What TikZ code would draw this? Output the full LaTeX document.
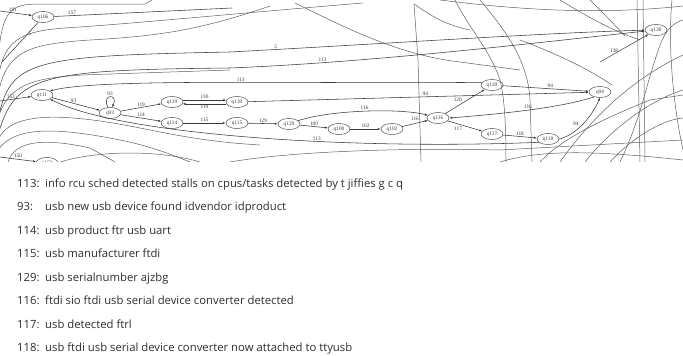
\documentclass[tikz,border=0pt]{standalone}
\usepackage{fontspec}
\setmainfont{Liberation Serif}
\newfontfamily\legendfont{Open Sans}
\usetikzlibrary{shapes.geometric}
\usetikzlibrary{arrows.meta}
\usetikzlibrary{positioning}
\definecolor{gr-line}{HTML}{3A3A3A}
\definecolor{gr-back}{HTML}{5E5E5E}
\definecolor{gr-text}{HTML}{2E2E2E}

\tikzset{
  state/.style={ellipse, draw=gr-line, line width=0.45pt, inner sep=0.5pt, minimum width=22pt, minimum height=11pt, font=\fontsize{5.3}{5}\selectfont, text=gr-line},
  trans/.style={->, gr-line, line width=0.55pt},
  lbl/.style={font=\fontsize{5.3}{5}\selectfont, inner sep=1pt, text=gr-line},
  back/.style={gr-back, line width=0.5pt},
  legrow/.style={anchor=base west, font=\legendfont\fontsize{11.3}{13}\selectfont, text=gr-text, inner sep=0pt}
}

\begin{document}
\begin{tikzpicture}[x=1pt, y=-1pt, >={Latex[length=3pt,width=2.2pt]}]
    \useasboundingbox (0,0) rectangle (683,356);
    \begin{scope}
        \clip (0,0) rectangle (683,161);
        % states
        \node[state] (q106) at (43,17) {q106};
        \node[state] (q111) at (42,95) {q111};
        \node[state] (q93) at (110,113) {q93};
        \node[state] (q119) at (172,102) {q119};
        \node[state] (q130) at (237,102) {q130};
        \node[state] (q114) at (172,123) {q114};
        \node[state] (q115) at (237,123) {q115};
        \node[state] (q129) at (289,124) {q129};
        \node[state] (q100) at (339,129) {q100};
        \node[state] (q102) at (392,129) {q102};
        \node[state] (q116) at (438,118) {q116};
        \node[state] (q120) at (492,85) {q120};
        \node[state] (q94) at (600,92) {q94};
        \node[state] (q117) at (492,134) {q117};
        \node[state] (q118) at (548,139) {q118};
        \node[state] (q138) at (656,30) {q138};
        \node[state] (q150) at (47,163) {q150};
        % free ends of cut edges
        \coordinate (in191) at (0,11);
        \coordinate (out5) at (2,62);
        \coordinate (out157) at (232,8);
        \coordinate (in153) at (0,101);
        \coordinate (in150) at (0,157);
        \coordinate (in138) at (600,62);
        \coordinate (lf5) at (-2,120);
        \coordinate (lf113) at (-2,135);

        % background edges of the larger graph
        \draw[back] (-2,60) .. controls (2,10) and (10,4) .. (40,4) -- (145,4) -- (152,0);
        \draw[back] (-2,80) .. controls (4,35) and (25,30) .. (80,27) .. controls (150,22) and (230,14) .. (363,3);
        \draw[back] (-2,95) .. controls (6,50) and (30,44) .. (90,40) .. controls (160,36) and (200,30) .. (270,6);
        \draw[back] (-2,118) .. controls (10,80) and (40,76) .. (110,74) -- (230,70);
        \draw[back] (-2,140) .. controls (10,112) and (60,112) .. (140,128) .. controls (180,136) and (210,142) .. (260,145);
        \draw[back] (-2,150) .. controls (15,125) and (60,128) .. (120,140) .. controls (150,146) and (170,154) .. (190,162);
        \draw[back] (8,162) .. controls (15,140) and (45,138) .. (90,148) -- (115,162);
        \draw[back] (60,162) .. controls (100,150) and (160,150) .. (200,162);
        \draw[back] (230,162) .. controls (300,150) and (420,148) .. (500,150) -- (683,140);
        \draw[back] (295,3) .. controls (350,30) and (400,55) .. (460,62) -- (520,70);
        \draw[back] (414,4) -- (418,60) -- (421,162);
        \draw[back] (414,4) .. controls (430,15) and (445,25) .. (470,30);
        \draw[back] (455,0) .. controls (470,30) and (490,50) .. (500,80) .. controls (505,100) and (506,130) .. (506,162);
        \draw[back] (480,0) .. controls (505,30) and (528,60) .. (530,100) -- (532,162);
        \draw[back] (560,0) .. controls (585,15) and (610,30) .. (640,40);
        \draw[back] (590,0) .. controls (600,10) and (612,22) .. (625,36);
        \draw[back] (637,0) -- (640,162);
        \draw[back] (643,0) -- (645,162);
        \draw[back] (672,0) .. controls (668,40) and (672,100) .. (683,150);
        \draw[back] (683,20) .. controls (665,25) and (660,45) .. (655,60) .. controls (645,90) and (640,120) .. (620,162);
        \draw[back] (560,162) .. controls (590,120) and (630,80) .. (683,55);
        \draw[back] (585,162) .. controls (610,130) and (650,100) .. (683,90);
        \draw[back] (610,162) .. controls (630,140) and (660,120) .. (683,118);
        \draw[back] (440,0) .. controls (520,10) and (600,15) .. (683,6);
        \draw[back] (520,40) .. controls (560,55) and (590,70) .. (612,85);
        \draw[back] (540,162) .. controls (560,140) and (600,120) .. (650,100) -- (683,95);
        \draw[back] (500,162) .. controls (540,150) and (590,150) .. (683,160);

        % transitions
        \draw[trans] (in191) -- node[lbl, above, pos=0.4] {191} (q106);
        \draw[gr-line, line width=0.55pt] (q106) -- node[lbl, right, pos=0.3] {5} (out5);
        \draw[gr-line, line width=0.55pt] (q106) -- node[lbl, above, pos=0.1] {157} (out157);
        \draw[trans] (in153) -- node[lbl, above, pos=0.35] {153} (q111);
        \draw[trans] (in150) -- node[lbl, above, pos=0.5] {150} (q150);
        \draw[trans] (lf5) .. controls (10,60) and (30,56) .. (230,52) .. controls (380,44) and (560,32) .. node[lbl, above, pos=0.1] {5} (q138);
        \draw[trans] (lf113) .. controls (15,75) and (40,70) .. (230,68) .. controls (380,62) and (560,40) .. node[lbl, above, pos=0.2] {113} (q138);
        \draw[trans] (in138) -- node[lbl, left, pos=0.4] {138} (q138);
        \draw[trans] (q111) -- node[lbl, above, pos=0.45] {93} (q93);
        \draw[trans] (q93.110) .. controls +(-7,-14) and +(7,-14) .. node[lbl, above] {93} (q93.70);
        \draw[trans] (q93) -- node[lbl, above, pos=0.5] {119} (q119);
        \draw[trans] (q93) -- node[lbl, above, pos=0.5] {114} (q114);
        \draw[trans] (q119.10) -- node[lbl, above] {130} (q130.170);
        \draw[trans] (q130.190) -- node[lbl, below] {119} (q119.350);
        \draw[trans] (q114) -- node[lbl, above] {115} (q115);
        \draw[trans] (q115) -- node[lbl, above] {129} (q129);
        \draw[trans] (q129) -- node[lbl, above] {100} (q100);
        \draw[trans] (q100) -- node[lbl, above] {102} (q102);
        \draw[trans] (q102) -- node[lbl, above left, pos=0.7] {116} (q116);
        \draw[trans] (q129.20) .. controls (330,110) and (400,108) .. node[lbl, above] {116} (q116.165);
        \draw[trans] (q130) -- node[lbl, above, pos=0.52] {94} (q94);
        \draw[trans] (q116) -- node[lbl, above left, pos=0.45] {120} (q120);
        \draw[trans] (q116) -- node[lbl, below left, pos=0.45] {117} (q117);
        \draw[trans] (q120) -- node[lbl, above, pos=0.55] {94} (q94);
        \draw[trans] (q117) -- node[lbl, above, pos=0.5] {118} (q118);
        \draw[trans] (q118.east) .. controls (575,135) and (590,120) .. node[lbl, above left, pos=0.45] {94} (q94.south);
        \draw[trans] (q94.220) .. controls (560,108) and (500,114) .. node[lbl, above, pos=0.5] {116} (q116.east);
        \draw[trans] (q120.165) .. controls (300,84) and (100,78) .. node[lbl, above, pos=0.45] {113} (q111.north east);
        \draw[trans] (q118.200) .. controls (350,150) and (120,135) .. node[lbl, above, pos=0.38] {113} (q111.south east);
    \end{scope}
    % legend
    \node[legrow] (leg113) at (17,187) {\makebox[28pt][l]{113:}info rcu sched detected stalls on cpus/tasks detected by t jiffies g c q};
    \node[legrow] (leg93) at (17,210.5) {\makebox[28pt][l]{93:}usb new usb device found idvendor idproduct};
    \node[legrow] (leg114) at (17,234) {\makebox[28pt][l]{114:}usb product ftr usb uart};
    \node[legrow] (leg115) at (17,257.5) {\makebox[28pt][l]{115:}usb manufacturer ftdi};
    \node[legrow] (leg129) at (17,281) {\makebox[28pt][l]{129:}usb serialnumber ajzbg};
    \node[legrow] (leg116) at (17,304.5) {\makebox[28pt][l]{116:}ftdi sio ftdi usb serial device converter detected};
    \node[legrow] (leg117) at (17,328) {\makebox[28pt][l]{117:}usb detected ftrl};
    \node[legrow] (leg118) at (17,351.5) {\makebox[28pt][l]{118:}usb ftdi usb serial device converter now attached to ttyusb};
\end{tikzpicture}
\end{document}
